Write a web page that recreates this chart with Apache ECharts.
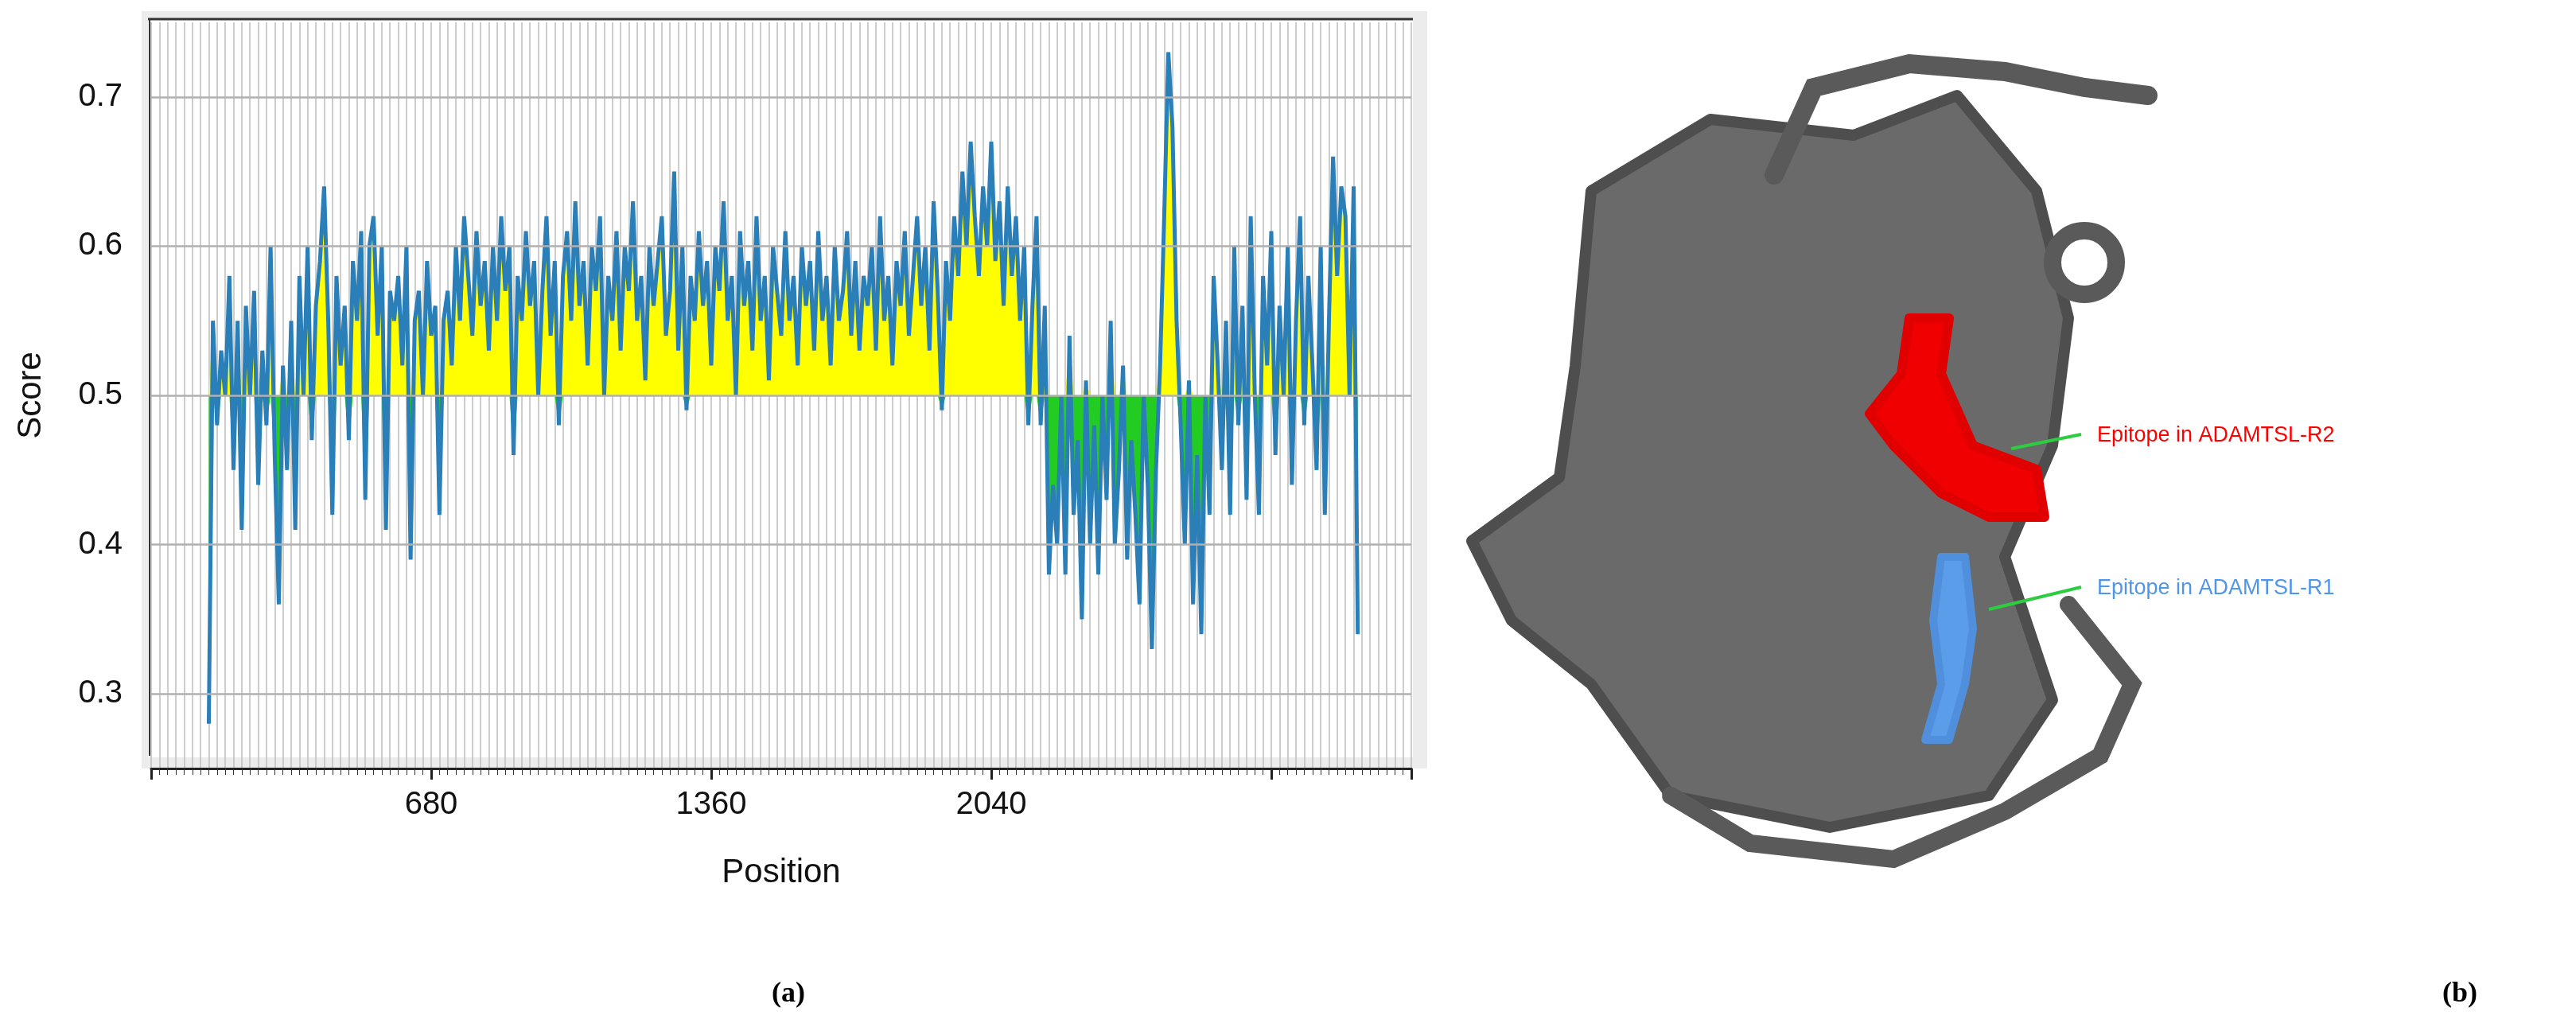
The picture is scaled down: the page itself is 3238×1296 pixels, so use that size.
<!DOCTYPE html>
<html><head><meta charset="utf-8">
<script src="https://cdn.jsdelivr.net/npm/echarts@6/dist/echarts.min.js"></script>
<style>html,body{margin:0;background:#fff}#c{width:3238px;height:1296px}</style>
</head><body><div id="c"></div>
<script>
const startPos = 140, stepPos = 10;
const scores = [
0.28,0.55,0.48,0.53,0.50,0.58,0.45,0.55,0.41,0.56,
0.50,0.57,0.44,0.53,0.48,0.60,0.46,0.36,0.52,0.45,
0.55,0.41,0.58,0.50,0.60,0.47,0.56,0.59,0.64,0.55,
0.42,0.58,0.52,0.56,0.47,0.59,0.55,0.61,0.43,0.60,
0.62,0.54,0.60,0.41,0.57,0.55,0.58,0.52,0.60,0.39,
0.55,0.57,0.50,0.59,0.54,0.56,0.42,0.55,0.57,0.52,
0.60,0.55,0.62,0.58,0.54,0.61,0.56,0.59,0.53,0.60,
0.55,0.62,0.57,0.60,0.46,0.58,0.55,0.61,0.56,0.59,
0.50,0.57,0.62,0.54,0.59,0.48,0.58,0.61,0.55,0.63,
0.56,0.59,0.52,0.60,0.57,0.62,0.50,0.58,0.55,0.61,
0.53,0.60,0.57,0.63,0.55,0.58,0.51,0.60,0.56,0.59,
0.62,0.54,0.57,0.65,0.53,0.60,0.49,0.58,0.55,0.61,
0.56,0.59,0.52,0.60,0.57,0.63,0.55,0.58,0.50,0.61,
0.56,0.59,0.53,0.62,0.55,0.58,0.51,0.60,0.57,0.54,
0.61,0.55,0.58,0.52,0.60,0.56,0.59,0.53,0.61,0.55,
0.58,0.52,0.60,0.55,0.57,0.61,0.54,0.59,0.53,0.58,
0.56,0.60,0.53,0.62,0.55,0.58,0.52,0.59,0.56,0.61,
0.54,0.58,0.62,0.56,0.60,0.53,0.63,0.57,0.49,0.59,
0.55,0.62,0.58,0.65,0.60,0.67,0.62,0.58,0.64,0.60,
0.67,0.59,0.63,0.56,0.64,0.58,0.62,0.55,0.60,0.48,
0.56,0.62,0.48,0.56,0.38,0.44,0.40,0.50,0.38,0.54,
0.42,0.47,0.35,0.51,0.40,0.48,0.38,0.50,0.43,0.55,
0.40,0.45,0.52,0.39,0.47,0.42,0.36,0.50,0.44,0.33,
0.45,0.52,0.62,0.73,0.68,0.55,0.48,0.40,0.51,0.36,
0.46,0.34,0.50,0.42,0.58,0.52,0.45,0.55,0.42,0.60,
0.48,0.56,0.43,0.62,0.50,0.42,0.58,0.52,0.61,0.46,
0.56,0.50,0.60,0.44,0.55,0.62,0.48,0.58,0.52,0.45,
0.60,0.42,0.55,0.66,0.58,0.64,0.62,0.50,0.64,0.34];
const threshold = 0.5;
const xTicks = [680, 1360, 2040];
const yGrid = [0.3, 0.4, 0.5, 0.6, 0.7];

const pts = scores.map((v,i)=>[startPos+i*stepPos, v]);
const above = pts.map(p=>[p[0], Math.max(p[1],threshold)]);
const below = pts.map(p=>[p[0], Math.min(p[1],threshold)]);

const chart = echarts.init(document.getElementById('c'));
chart.setOption({
  backgroundColor:'#fff',
  animation:false,
  graphic:[
    {type:'rect',shape:{x:178,y:14,width:1616,height:952},style:{fill:'#ececec'},z:-10},
    {type:'rect',shape:{x:186,y:22,width:1590,height:930},style:{fill:'#fff'},z:-9},
    {type:'line',shape:{x1:186,y1:24,x2:1776,y2:24},style:{stroke:'#333',lineWidth:3}},
    {type:'line',shape:{x1:188,y1:24,x2:188,y2:950},style:{stroke:'#333',lineWidth:2}},
    {type:'text',left:970,top:1232,style:{text:'(a)',font:'bold 36px "Liberation Serif"',fill:'#000'}},
    {type:'text',left:3070,top:1232,style:{text:'(b)',font:'bold 36px "Liberation Serif"',fill:'#000'}},
    {type:'polygon',shape:{points:[[2000,240],[2150,150],[2330,170],[2460,120],[2560,240],[2600,400],[2580,560],[2520,700],[2580,880],[2500,1000],[2300,1040],[2100,1000],[2000,860],[1900,780],[1850,680],[1960,600],[1980,460]]},style:{fill:'#6a6a6a',stroke:'#4e4e4e',lineWidth:14,lineJoin:'round'}},
    {type:'polyline',shape:{points:[[2230,220],[2280,110],[2400,80],[2520,90],[2620,110],[2700,120]]},style:{stroke:'#5a5a5a',lineWidth:24,fill:null,lineCap:'round'}},
    {type:'polyline',shape:{points:[[2100,1000],[2200,1060],[2380,1080],[2520,1020],[2640,950],[2680,860],[2600,760]]},style:{stroke:'#5a5a5a',lineWidth:22,fill:null,lineCap:'round'}},
    {type:'circle',shape:{cx:2620,cy:330,r:40},style:{fill:'none',stroke:'#5a5a5a',lineWidth:22}},
    {type:'polygon',shape:{points:[[2400,400],[2450,400],[2440,470],[2480,560],[2560,590],[2570,650],[2500,650],[2440,620],[2380,560],[2350,520],[2390,470]]},style:{fill:'#f00000',stroke:'#e00000',lineWidth:12,lineJoin:'round'}},
    {type:'polygon',shape:{points:[[2440,700],[2470,700],[2480,790],[2470,860],[2450,930],[2420,930],[2440,860],[2430,780]]},style:{fill:'#5b9de8',stroke:'#4f8fdc',lineWidth:10,lineJoin:'round'}},
    {type:'line',shape:{x1:2616,y1:546,x2:2528,y2:564},style:{stroke:'#2ecc40',lineWidth:4}},
    {type:'line',shape:{x1:2616,y1:738,x2:2500,y2:766},style:{stroke:'#2ecc40',lineWidth:4}},
    {type:'text',left:2636,top:534,style:{text:'Epitope in ADAMTSL-R2',font:'27px "Liberation Sans"',fill:'#ff0000'}},
    {type:'text',left:2636,top:726,style:{text:'Epitope in ADAMTSL-R1',font:'27px "Liberation Sans"',fill:'#4f95e8'}}
  ],
  grid:{left:190,right:1464,top:28,bottom:330},
  xAxis:{type:'value',min:0,max:3060,interval:680,name:'Position',nameLocation:'middle',nameGap:110,
    nameTextStyle:{fontSize:42,color:'#111',fontFamily:'Liberation Sans'},
    axisLine:{show:true,onZero:false,lineStyle:{color:'#222',width:3}},
    axisTick:{show:true,length:14,lineStyle:{color:'#222',width:3}},
    minorTick:{show:true,splitNumber:34,length:8,lineStyle:{color:'#333'}},
    minorSplitLine:{show:true,lineStyle:{color:'#bdbdbd',width:1.5}},
    splitLine:{show:true,lineStyle:{color:'#bdbdbd',width:1.5}},
    axisLabel:{fontSize:40,color:'#111',margin:26,fontFamily:'Liberation Sans',formatter:v=>xTicks.includes(v)?String(v):''}},
  yAxis:{type:'value',min:0.25,max:0.75,interval:0.05,name:'Score',nameLocation:'middle',nameGap:130,
    nameTextStyle:{fontSize:42,color:'#111',fontFamily:'Liberation Sans'},
    axisLine:{show:false},axisTick:{show:false},splitLine:{show:false},
    axisLabel:{fontSize:40,color:'#111',margin:36,fontFamily:'Liberation Sans',
      formatter:v=>yGrid.some(g=>Math.abs(g-v)<1e-6)?v.toFixed(1):''}},
  series:[
    {type:'line',data:above,symbol:'none',lineStyle:{width:0},areaStyle:{origin:threshold,color:'#ffff00',opacity:1},z:2,
     markLine:{silent:true,symbol:'none',label:{show:false},lineStyle:{color:'#b0b0b0',width:2.5,type:'solid'},data:yGrid.map(g=>({yAxis:g}))}},
    {type:'line',data:below,symbol:'none',lineStyle:{width:0},areaStyle:{origin:threshold,color:'#22cc22',opacity:1},z:2},
    {type:'line',data:pts,symbol:'none',lineStyle:{color:'#2a7fb8',width:5},z:3}
  ]
});
</script></body></html>
